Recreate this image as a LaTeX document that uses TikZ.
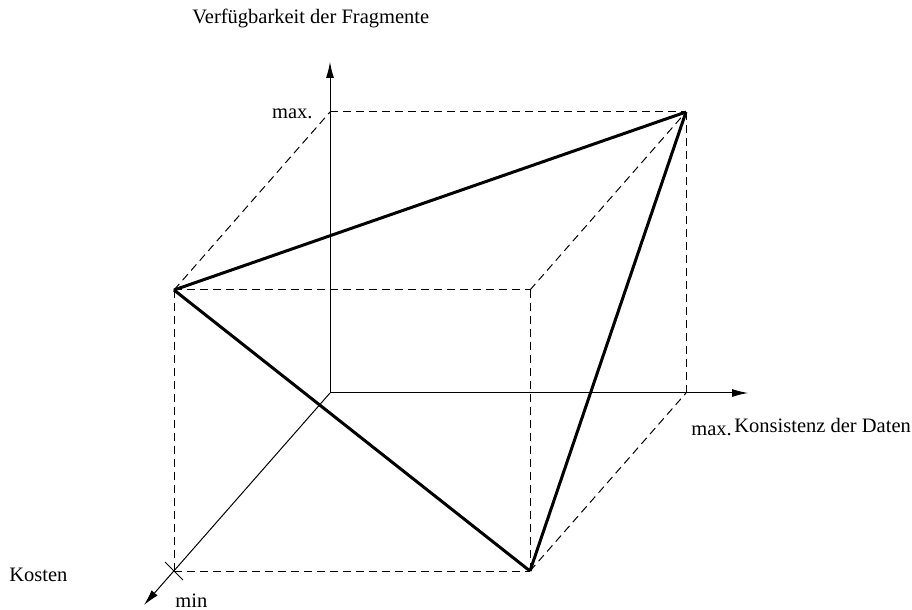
\documentclass[tikz,border=0pt]{standalone}
\usepackage{fontspec}
\setmainfont{Liberation Serif}
\usetikzlibrary{arrows.meta,calc}
\begin{document}
\begin{tikzpicture}[x=0.5pt,y=-0.5pt,
  axis/.style={line width=0.5pt,-{Latex[length=8pt,width=4pt]}},
  thin/.style={line width=0.5pt},
  guide/.style={line width=0.5pt,dash pattern=on 4pt off 2.5pt},
  edge/.style={line width=1.5pt,line join=miter},
  lbl/.style={inner sep=0pt,font=\fontsize{10.25}{12}\selectfont}]
\useasboundingbox (0,0) rectangle (912,610);
% points
\coordinate (O) at (330,393);
\coordinate (V) at (330,112);
\coordinate (H) at (686,393);
\coordinate (D) at (174,571);
\coordinate (T) at (686,112);
\coordinate (L) at (174,290);
\coordinate (C) at (530,290);
\coordinate (B) at (530,571);
\coordinate (Vtip) at (330,62);
\coordinate (Htip) at (748,393);
\coordinate (Dtip) at (144,605);
\coordinate (X1) at (165,562);
\coordinate (X2) at (183,580);
% axes
\draw[axis] (O) -- (Vtip);
\draw[axis] (O) -- (Htip);
\draw[axis] (O) -- (Dtip);
\draw[thin] (X1) -- (X2);
% guides
\draw[guide] (L) -- (V);
\draw[guide] (V) -- (T);
\draw[guide] (T) -- (H);
\draw[guide] (L) -- (C);
\draw[guide] (C) -- (T);
\draw[guide] (L) -- (D);
\draw[guide] (D) -- (B);
\draw[guide] (C) -- (B);
\draw[guide] (B) -- (H);
% triangle
\draw[edge] (L) -- (T);
\draw[edge] (L) -- (B);
\draw[edge] (B) -- (T);
% labels
\node[lbl,anchor=base west] (tv) at (192,24) {Verfügbarkeit der Fragmente};
\node[lbl,anchor=base east] (mv) at (313,119) {max.};
\node[lbl,anchor=base west] (mh) at (691,436) {max.};
\node[lbl,anchor=base west] (th) at (734,432) {Konsistenz der Daten};
\node[lbl,anchor=base west] (tk) at (9,581) {Kosten};
\node[lbl,anchor=base west] (mn) at (175,607) {min};
\end{tikzpicture}
\end{document}
